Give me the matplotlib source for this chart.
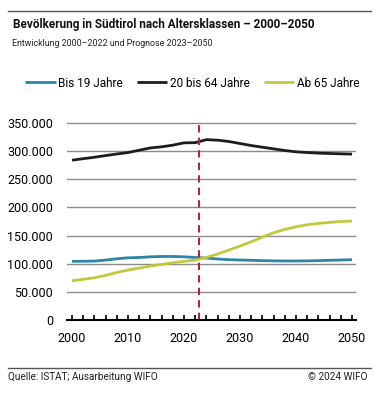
import numpy as np
import matplotlib
matplotlib.use("Agg")
import matplotlib.pyplot as plt
from matplotlib.ticker import FuncFormatter, MultipleLocator
from matplotlib.lines import Line2D

years = [2000, 2002, 2004, 2006, 2008, 2010, 2012, 2014, 2016, 2018, 2020, 2022,
         2024, 2026, 2028, 2030, 2032, 2034, 2036, 2038, 2040, 2042, 2044, 2046, 2048, 2050]
bis19 = [104100, 104300, 104600, 106400, 108700, 110400, 111000, 112200, 112800, 112800, 112200, 111000,
         110000, 108300, 107100, 106500, 106000, 105400, 105000, 104800, 104800, 105000, 105400, 106000, 106500, 107100]
von20bis64 = [283800, 286500, 289000, 292000, 294800, 297400, 301500, 305600, 307500, 310500, 314600, 314900,
              320300, 319300, 317000, 313400, 309800, 306800, 303900, 301000, 298600, 297400, 296300, 295700, 295100, 294600]
ab65 = [69700, 72200, 75000, 79200, 84500, 88700, 92200, 95800, 98700, 101600, 104100, 106400,
        111200, 117100, 124200, 131300, 139000, 147200, 154900, 160800, 165600, 169100, 171500, 173300, 175000, 175600]
labels = ["Bis 19 Jahre", "20 bis 64 Jahre", "Ab 65 Jahre"]
colors = ["#2b86a6", "#1b1d1f", "#c3c83c"]
prognose_start = 2022.7

plt.rcParams['font.family'] = ['Roboto', 'DejaVu Sans']

fig = plt.figure(figsize=(3.84, 4.03), dpi=100)
ax = fig.add_axes([0.1745, 0.206, 0.7525, 0.496])

for vals, lab, c in zip([bis19, von20bis64, ab65], labels, colors):
    ax.plot(years, vals, color=c, lw=2.0, label=lab, solid_capstyle='butt')

ax.axvline(prognose_start, color="#b0263a", lw=1.5, ls=(0, (3.5, 2.5)))

ax.set_xlim(1999.1, 2050.7)
ax.set_ylim(0, 355000)
ax.set_yticks(np.arange(0, 350001, 50000))
ax.yaxis.set_major_formatter(FuncFormatter(lambda v, p: f"{int(v):,}".replace(",", ".")))
for yv in range(50000, 350001, 50000):
    ax.axhline(yv, color="#8c8c8c", lw=1.0, zorder=0)

ax.xaxis.set_major_locator(MultipleLocator(10))
ax.xaxis.set_minor_locator(MultipleLocator(2))
ax.tick_params(axis='x', which='both', direction='in', length=3.5, width=1.2, color='black', labelsize=9, pad=9)
ax.tick_params(axis='y', length=0, labelsize=9, pad=10)
for s in ['top', 'right', 'left']:
    ax.spines[s].set_visible(False)
ax.spines['bottom'].set_linewidth(1.5)

fig.add_artist(Line2D([0.021, 0.966], [0.973, 0.973], color="#555555", lw=1.0))
fig.add_artist(Line2D([0.021, 0.966], [0.088, 0.088], color="#555555", lw=1.0))
fig.text(0.033, 0.938, "Bevölkerung in Südtirol nach Altersklassen – 2000–2050",
         fontsize=8.5, fontweight='bold', va='center', ha='left', color="#111111")
fig.text(0.031, 0.892, "Entwicklung 2000–2022 und Prognose 2023–2050",
         fontsize=6.4, va='center', ha='left', color="#222222")
fig.text(0.022, 0.065, "Quelle: ISTAT; Ausarbeitung WIFO", fontsize=7.2, va='center', ha='left', color="#222222")
fig.text(0.958, 0.065, "© 2024 WIFO", fontsize=7.2, va='center', ha='right', color="#222222")

fig.legend(loc='center', bbox_to_anchor=(0.5, 0.794), ncol=3, frameon=False, fontsize=8.5,
           handlelength=2.6, handletextpad=0.2, columnspacing=1.2)

fig.savefig("out.png", dpi=100)
